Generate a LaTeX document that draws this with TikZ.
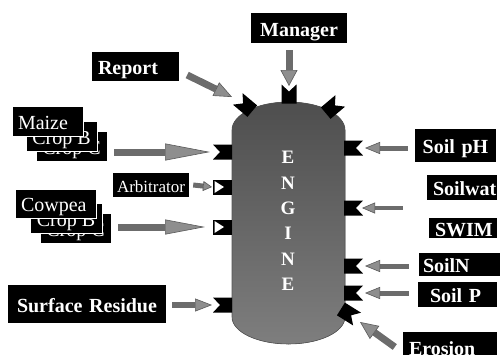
\documentclass[tikz,border=0pt]{standalone}
\usepackage{fontspec}
\setmainfont{Liberation Serif}
\usetikzlibrary{arrows.meta}
\definecolor{shaft}{HTML}{6C6C6C}
\definecolor{headc}{HTML}{8E8E8E}
\definecolor{headb}{HTML}{5A5A5A}
\definecolor{engtop}{HTML}{4E4E4E}
\definecolor{engbot}{HTML}{7E7E7E}
\definecolor{engb}{HTML}{555555}
\begin{document}
\begin{tikzpicture}[x=1pt, y=-1pt,
  lbl/.style={fill=black, text=white, font=\bfseries\fontsize{20}{22}\selectfont, inner xsep=6pt, inner ysep=0pt, text height=16pt, text depth=0pt, align=left},
  crop/.style={fill=black, draw=white, line width=0.6pt, text=white, font=\fontsize{20}{22}\selectfont, inner xsep=0pt, inner ysep=0pt, text height=16pt, text depth=0pt, minimum width=71pt, minimum height=30pt},
  arr/.style n args={3}{line width=#1, draw=shaft, -{Triangle[length=#2, width=#3, color=headb, fill=headc, line width=0.6pt]}},
  port/.pic={\fill[black] (-9.5,-7.5) -- (9.5,-7.5) -- (9.5,7.5) -- (-9.5,7.5) -- (-2.5,0) -- cycle;},
  porth/.pic={\fill[black] (-9.5,-7.5) rectangle (9.5,7.5);
              \fill[white] (-8,-6) -- (1.5,0) -- (-8,6) -- cycle;}]
\useasboundingbox (0,0) rectangle (501,354);
% ---------------- engine
\fill[top color=engtop, bottom color=engbot, draw=engb, line width=0.6pt]
  (232,130) -- (232,317) arc[start angle=180, end angle=0, x radius=56.5, y radius=27]
  -- (345,130) arc[start angle=0, end angle=-180, x radius=56.5, y radius=28] -- cycle;
\node[text=white, font=\bfseries\fontsize{19}{25.4}\selectfont, align=center] (engine) at (288,221) {E\\N\\G\\I\\N\\E};
% ports round the engine
\coordinate (p-maize) at (222.5,152);
\coordinate (p-arb) at (222.5,187);
\coordinate (p-cow) at (222.5,227);
\coordinate (p-res) at (222.5,305);
\coordinate (p-man) at (289,94);
\coordinate (p-rep) at (245,105);
\coordinate (p-tr) at (333,107);
\coordinate (p-ph) at (353.5,148);
\coordinate (p-wat) at (353.5,208);
\coordinate (p-n) at (353.5,266);
\coordinate (p-p) at (353.5,293);
\coordinate (p-ero) at (349,314);
\pic at (p-maize) {port};
\pic at (p-arb) {porth};
\pic at (p-cow) {porth};
\pic at (p-res) {port};
\pic[rotate=-90] at (p-man) {port};
\pic[rotate=-40] at (p-rep) {port};
\pic[rotate=-140] at (p-tr) {port};
\pic[rotate=180] at (p-ph) {port};
\pic[rotate=180] at (p-wat) {port};
\pic[rotate=180] at (p-n) {port};
\pic[rotate=180] at (p-p) {port};
\pic[rotate=148] at (p-ero) {port};
% ---------------- top
\node[lbl, text width=84pt, minimum height=30pt, align=center] (manager) at (299,28) {Manager};
\node[lbl, text width=75pt, minimum height=29pt] (report) at (135.5,66.5) {Report};
% ---------------- left side
\node[crop] (maizeC) at (71.5,146.5) {Crop C};
\node[crop] (maizeB) at (61.5,136.5) {Crop B};
\node[crop, inner xsep=6pt, text width=59pt, align=left] (maize) at (47.5,121) {Maize};
\node[crop] (cowC) at (75.5,228.5) {Crop C};
\node[crop, minimum width=72pt] (cowB) at (66,218) {Crop B};
\node[crop, inner xsep=6pt, text width=69pt, align=left, minimum height=29pt] (cow) at (55.5,203.5) {Cowpea};
\node[lbl, font=\fontsize{17}{19}\selectfont, text height=14pt, text width=70pt, inner xsep=3pt, minimum height=24pt, align=center] (arb) at (151,185) {Arbitrator};
\node[lbl, text width=146pt, minimum height=38pt, align=center] (residue) at (87,304) {Surface Residue};
% ---------------- right side
\node[lbl, text width=69pt, minimum height=33pt, align=center] (ph) at (455.5,145.5) {Soil pH};
\node[lbl, text width=58pt, minimum height=25pt, align=center] (soilwat) at (462,187.5) {Soilwat};
\node[lbl, text width=56pt, minimum height=20pt, align=center] (swim) at (463,228) {SWIM};
\node[lbl, text width=73pt, inner xsep=4pt, minimum height=23pt] (soiln) at (459.5,264.5) {SoilN};
\node[lbl, text width=67pt, minimum height=25pt] (soilp) at (457.5,294.5) {\hspace{6pt}Soil P};
\node[lbl, text width=82pt, minimum height=30pt, anchor=north] (erosion) at (450,332) {Erosion};
% ---------------- arrows into the ports
\draw[arr={7pt}{45pt}{17pt}] ([xshift=7pt]maizeC.east |- p-maize) -- ([xshift=-12.5pt]p-maize);
\draw[arr={5pt}{9pt}{10pt}] ([xshift=4pt]arb.east) -- ([xshift=-10.5pt]p-arb);
\draw[arr={7pt}{40pt}{15pt}] ([xshift=7pt]cowC.east |- p-cow) -- ([xshift=-17.5pt]p-cow);
\draw[arr={6pt}{17pt}{13pt}] ([xshift=6pt]residue.east |- p-res) -- ([xshift=-10.5pt]p-res);
\draw[arr={7pt}{16pt}{17pt}] ([yshift=-7pt]manager.south -| p-man) -- ([yshift=8pt]p-man);
\draw[arr={7pt}{18pt}{15pt}] ([xshift=8pt,yshift=-8.5pt]report.east) -- ([xshift=-13pt,yshift=8pt]p-rep);
\draw[arr={5pt}{15pt}{12pt}] ([xshift=-7pt]ph.west |- p-ph) -- ([xshift=11.5pt]p-ph);
\draw[arr={4pt}{13pt}{11pt}] ([xshift=-24pt]soilwat.west |- p-wat) -- ([xshift=8.5pt]p-wat);
\draw[arr={5pt}{15pt}{12pt}] ([xshift=-10pt]soiln.west |- p-n) -- ([xshift=11.5pt]p-n);
\draw[arr={5pt}{15pt}{12pt}] ([xshift=-9pt]soilp.west |- p-p) -- ([xshift=11.5pt]p-p);
\draw[arr={7pt}{18pt}{16pt}] ([xshift=-8pt,yshift=-15pt]erosion.north west) -- ([xshift=11pt,yshift=-8pt]p-ero);
\end{tikzpicture}
\end{document}
